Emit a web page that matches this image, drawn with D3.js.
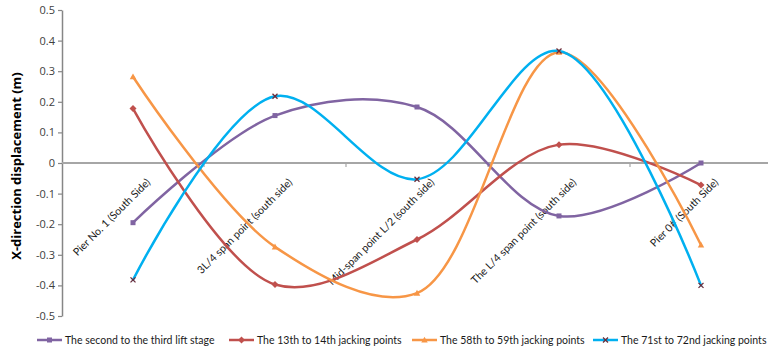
<!DOCTYPE html>
<html>
<head>
<meta charset="utf-8">
<script src="https://cdn.jsdelivr.net/npm/d3@7/dist/d3.min.js"></script>
<style>
  html, body { margin: 0; padding: 0; background: #fff; }
  svg { display: block; }
  text { font-family: Lato, "Open Sans", sans-serif; }
</style>
</head>
<body>
<svg id="chart" width="768" height="352"></svg>
<script>
// Monitoring points along the bridge (x categories)
const categories = [
  "Pier No. 1 (South Side)",
  "3L/4 span point (south side)",
  "Mid-span point L/2 (south side)",
  "The L/4 span point (south side)",
  "Pier 0# (South Side)"
];

// X-direction displacement (m) for each lifting / jacking stage
const seriesNames = [
  "The second to the third lift stage",
  "The 13th to 14th jacking points",
  "The 58th to 59th jacking points",
  "The 71st to 72nd jacking points"
];
const liftStage23   = [-0.195, 0.155, 0.183, -0.173, 0.000];
const jacking13to14 = [0.178, -0.397, -0.250, 0.060, -0.072];
const jacking58to59 = [0.282, -0.274, -0.425, 0.362, -0.268];
const jacking71to72 = [-0.382, 0.218, -0.053, 0.366, -0.400];

const yTickValues = [-0.5, -0.4, -0.3, -0.2, -0.1, 0, 0.1, 0.2, 0.3, 0.4, 0.5];
const yTickLabels = ["-0.5", "-0.4", "-0.3", "-0.2", "-0.1", "0", "0.1", "0.2", "0.3", "0.4", "0.5"];
const yTitle = "X-direction displacement (m)";

const colors = ["#8064A2", "#C0504D", "#F79646", "#00B0F0"];
const markers = ["square", "diamond", "triangle", "cross"];
const allSeries = [liftStage23, jacking13to14, jacking58to59, jacking71to72];

const svg = d3.select("#chart");
const plotLeft = 62, plotRight = 772, plotTop = 10, plotBottom = 316;

const x = d3.scaleBand().domain(categories).range([plotLeft, plotRight]).padding(0);
const xc = c => x(c) + x.bandwidth() / 2;
const y = d3.scaleLinear().domain([-0.5, 0.5]).range([plotBottom, plotTop]);

// Y axis
const yAxis = d3.axisLeft(y)
  .tickValues(yTickValues)
  .tickFormat((d, i) => yTickLabels[i])
  .tickSizeInner(4)
  .tickSizeOuter(0);
const gy = svg.append("g").attr("transform", `translate(${plotLeft},0)`).call(yAxis);
gy.select(".domain").attr("stroke", "#868686").attr("stroke-width", 1.5);
gy.selectAll(".tick line").attr("stroke", "#868686").attr("stroke-width", 1.2);
gy.selectAll(".tick text")
  .attr("fill", "#404040")
  .style("font-family", "'Open Sans', sans-serif")
  .style("font-size", "11px")
  .attr("x", -7);

// Y axis title
svg.append("text")
  .attr("transform", `translate(21,${(plotTop + plotBottom) / 2 + 3}) rotate(-90)`)
  .attr("text-anchor", "middle")
  .style("font-family", "'Open Sans', sans-serif")
  .style("font-weight", "bold")
  .style("font-size", "13px")
  .attr("fill", "#000")
  .text(yTitle);

// Category axis along zero
const y0 = y(0);
svg.append("line")
  .attr("x1", plotLeft).attr("x2", 768)
  .attr("y1", y0).attr("y2", y0)
  .attr("stroke", "#A6A6A6").attr("stroke-width", 2);
svg.append("g").selectAll("line")
  .data(categories.slice(1))
  .join("line")
  .attr("x1", d => x(d)).attr("x2", d => x(d))
  .attr("y1", y0).attr("y2", y0 + 4)
  .attr("stroke", "#A6A6A6").attr("stroke-width", 1.2);

// Category labels, rotated
svg.append("g").selectAll("text")
  .data(categories)
  .join("text")
  .attr("transform", d => `translate(${xc(d) + 18},${y0 + 20}) rotate(-45)`)
  .attr("text-anchor", "end")
  .attr("fill", "#1a1a1a")
  .style("font-size", "10.6px")
  .text(d => d);

// Smoothed series lines
const line = d3.line()
  .x((d, i) => xc(categories[i]))
  .y(d => y(d))
  .curve(d3.curveCatmullRom.alpha(0.5));

const gLines = svg.append("g");
allSeries.forEach((vals, s) => {
  gLines.append("path")
    .datum(vals)
    .attr("d", line)
    .attr("fill", "none")
    .attr("stroke", colors[s])
    .attr("stroke-width", 2.5)
    .attr("stroke-linecap", "round");
});

function drawMarker(g, type, cx, cy, color, size) {
  if (type === "square") {
    g.append("rect").attr("x", cx - size / 2).attr("y", cy - size / 2)
      .attr("width", size).attr("height", size).attr("fill", color);
  } else if (type === "diamond") {
    const s = size * 0.7;
    g.append("path").attr("d", `M${cx},${cy - s}L${cx + s},${cy}L${cx},${cy + s}L${cx - s},${cy}Z`)
      .attr("fill", color);
  } else if (type === "triangle") {
    const s = size * 0.65;
    g.append("path").attr("d", `M${cx},${cy - s}L${cx + s},${cy + s * 0.8}L${cx - s},${cy + s * 0.8}Z`)
      .attr("fill", color);
  } else {
    const s = size * 0.5;
    g.append("path").attr("d", `M${cx - s},${cy - s}L${cx + s},${cy + s}M${cx - s},${cy + s}L${cx + s},${cy - s}`)
      .attr("stroke", "#6b2c3a").attr("stroke-width", 1.3).attr("fill", "none");
  }
}

// Point markers
const gMarks = svg.append("g");
allSeries.forEach((vals, s) => {
  vals.forEach((v, i) => drawMarker(gMarks, markers[s], xc(categories[i]), y(v), colors[s], 5));
});

// Legend
const legendY = 340;
const legendX = [37, 229, 412, 593];
const gLeg = svg.append("g");
seriesNames.forEach((name, s) => {
  const lx = legendX[s];
  gLeg.append("line")
    .attr("x1", lx).attr("x2", lx + 25)
    .attr("y1", legendY).attr("y2", legendY)
    .attr("stroke", colors[s]).attr("stroke-width", 2.5);
  drawMarker(gLeg, markers[s], lx + 12.5, legendY, colors[s], 5);
  gLeg.append("text")
    .attr("x", lx + 28).attr("y", legendY + 4)
    .attr("fill", "#1a1a1a")
    .style("font-size", "10.5px")
    .text(name);
});
</script>
</body>
</html>
